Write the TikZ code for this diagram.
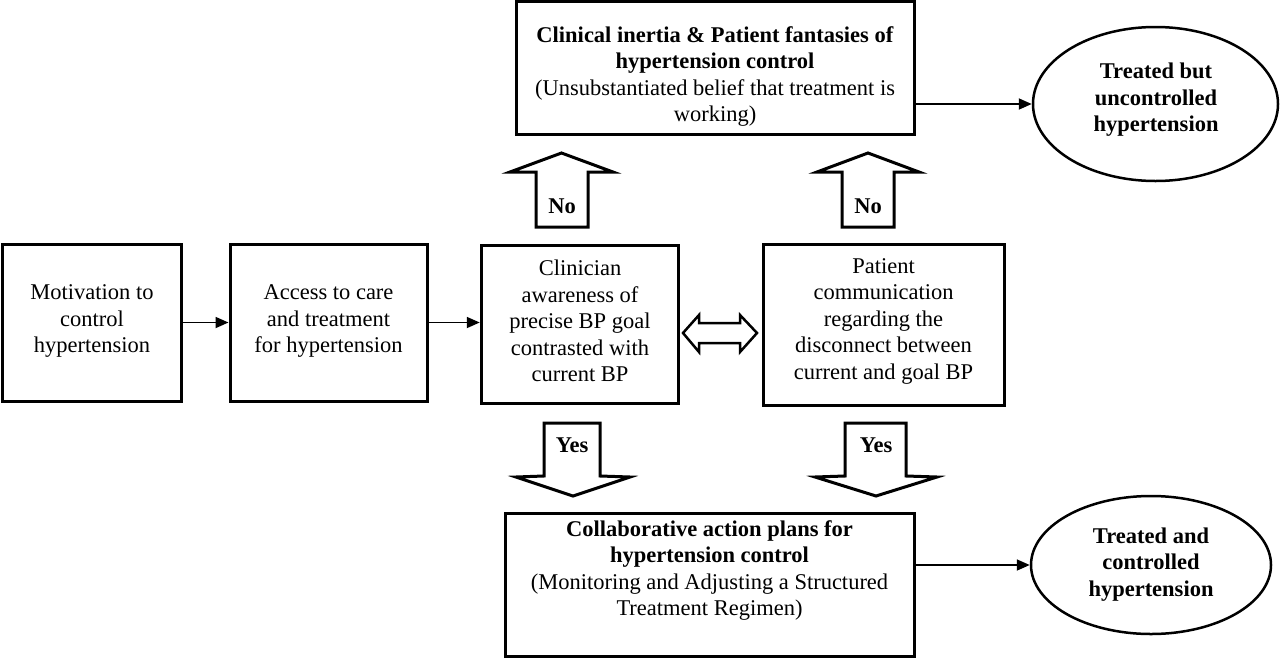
\documentclass[tikz,border=0pt]{standalone}
\usepackage{fontspec}
\setmainfont{Liberation Serif}
\usetikzlibrary{shapes.geometric,arrows.meta}
\begin{document}
\begin{tikzpicture}[x=1pt,y=-1pt,
 box/.style={draw, line width=3pt, inner sep=0pt},
 txt/.style={align=center, font=\fontsize{22.5}{26.5}\selectfont, inner sep=0pt},
 btxt/.style={align=center, font=\fontsize{22.5}{26.5}\selectfont\bfseries, inner sep=0pt},
 ell/.style={draw, ellipse, line width=2.5pt, inner sep=0pt},
 conn/.style={line width=1.8pt, -{Triangle[length=13pt,width=11pt]}},
 blockarrow/.style={draw, line width=3pt, fill=white, line join=miter},
]
\useasboundingbox (0,0) rectangle (1280,659);

% boxes
\node[box, minimum width=179pt, minimum height=157pt] (mot) at (92,322.5) {};
\node[txt] (mott) at (92,321) {Motivation to\\control\\hypertension};
\node[box, minimum width=197pt, minimum height=157pt] (acc) at (328.5,322.5) {};
\node[txt] (acct) at (328.5,321) {Access to care\\and treatment\\for hypertension};
\node[box, minimum width=197.5pt, minimum height=158pt] (cli) at (580,324) {};
\node[txt] (clit) at (580,321) {Clinician\\awareness of\\precise BP goal\\contrasted with\\current BP};
\node[box, minimum width=241pt, minimum height=161pt] (pat) at (883.5,324.5) {};
\node[txt] (patt) at (883.5,321) {Patient\\communication\\regarding the\\disconnect between\\current and goal BP};
\node[box, minimum width=398pt, minimum height=133.5pt] (top) at (715,68) {};
\node[txt] (topt) at (715,76.5) {\textbf{Clinical inertia \& Patient fantasies of}\\\textbf{hypertension control}\\(Unsubstantiated belief that treatment is\\working)};
\node[box, minimum width=409pt, minimum height=143pt] (bot) at (709.5,584.5) {};
\node[txt] (bott) at (709.5,570.5) {\textbf{Collaborative action plans for}\\\textbf{hypertension control}\\(Monitoring and Adjusting a Structured\\Treatment Regimen)};

% ellipses
\node[ell, minimum width=245pt, minimum height=154pt] (e1) at (1155.5,104) {};
\node[btxt] (e1t) at (1156,100) {Treated but\\uncontrolled\\hypertension};
\node[ell, minimum width=240pt, minimum height=138pt] (e2) at (1151,565) {};
\node[btxt] (e2t) at (1151,564.5) {Treated and\\controlled\\hypertension};

% connectors
\draw[conn] (mot.east) -- (acc.west);
\draw[conn] (acc.east) -- (acc.east -| cli.west);
\draw[conn] (top.east |- e1.west) -- (e1.west);
\draw[conn] (bot.east |- e2.west) -- (e2.west);

% block arrows: No (up)
\draw[blockarrow] (536,227) -- (536,172) -- (510,172) -- (561.5,153) -- (613,172) -- (588,172) -- (588,227) -- cycle;
\node[btxt] (no1) at (562,206) {No};
\draw[blockarrow] (842,227) -- (842,172) -- (817,172) -- (868,153) -- (919,172) -- (894,172) -- (894,227) -- cycle;
\node[btxt] (no2) at (868,206) {No};

% block arrows: Yes (down)
\draw[blockarrow] (544,423) -- (600,423) -- (600,476) -- (630,477) -- (573,496) -- (516,477) -- (544,476) -- cycle;
\node[btxt] (yes1) at (572,445) {Yes};
\draw[blockarrow] (845,423) -- (906,423) -- (906,476) -- (937,477) -- (876,496) -- (815,477) -- (845,476) -- cycle;
\node[btxt] (yes2) at (876,445) {Yes};

% double arrow
\draw[line width=2.5pt, fill=white, line join=miter] (683,333) -- (699,315) -- (699,323) -- (740,323) -- (740,315) -- (757,333) -- (740,352) -- (740,343) -- (699,343) -- (699,352) -- cycle;
\end{tikzpicture}
\end{document}
